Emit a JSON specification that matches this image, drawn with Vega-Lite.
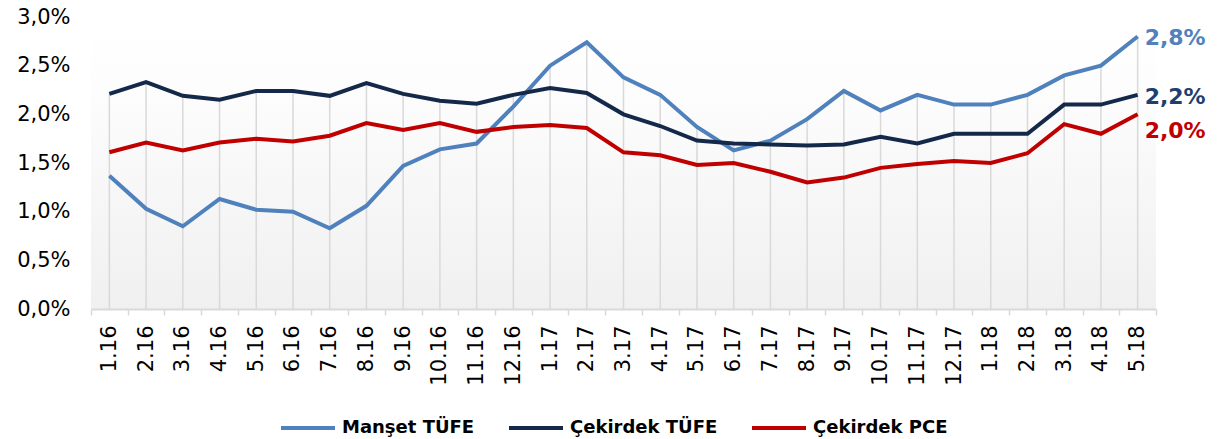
{
  "$schema": "https://vega.github.io/schema/vega-lite/v6.json",
  "width": 1065,
  "height": 292,
  "autosize": "none",
  "padding": {"left": 91, "top": 17, "right": 61, "bottom": 130},
  "background": "white",
  "config": {
    "font": "DejaVu Sans",
    "locale": {"number": {"decimal": ",", "thousands": ".", "grouping": [3], "currency": ["", " TL"]}},
    "view": {
      "stroke": null,
      "fill": {"gradient": "linear", "x1": 0, "y1": 0, "x2": 0, "y2": 1,
        "stops": [{"offset": 0, "color": "#ffffff"}, {"offset": 0.24, "color": "#fdfdfd"}, {"offset": 1, "color": "#f0f0f0"}]}
    }
  },
  "data": {"values": [
    {"m": "1.16", "s": "Manşet TÜFE", "v": 0.0137}, {"m": "2.16", "s": "Manşet TÜFE", "v": 0.0103}, {"m": "3.16", "s": "Manşet TÜFE", "v": 0.0085},
    {"m": "4.16", "s": "Manşet TÜFE", "v": 0.0113}, {"m": "5.16", "s": "Manşet TÜFE", "v": 0.0102}, {"m": "6.16", "s": "Manşet TÜFE", "v": 0.0100},
    {"m": "7.16", "s": "Manşet TÜFE", "v": 0.0083}, {"m": "8.16", "s": "Manşet TÜFE", "v": 0.0106}, {"m": "9.16", "s": "Manşet TÜFE", "v": 0.0147},
    {"m": "10.16", "s": "Manşet TÜFE", "v": 0.0164}, {"m": "11.16", "s": "Manşet TÜFE", "v": 0.0170}, {"m": "12.16", "s": "Manşet TÜFE", "v": 0.0208},
    {"m": "1.17", "s": "Manşet TÜFE", "v": 0.0250}, {"m": "2.17", "s": "Manşet TÜFE", "v": 0.0274}, {"m": "3.17", "s": "Manşet TÜFE", "v": 0.0238},
    {"m": "4.17", "s": "Manşet TÜFE", "v": 0.0220}, {"m": "5.17", "s": "Manşet TÜFE", "v": 0.0187}, {"m": "6.17", "s": "Manşet TÜFE", "v": 0.0163},
    {"m": "7.17", "s": "Manşet TÜFE", "v": 0.0173}, {"m": "8.17", "s": "Manşet TÜFE", "v": 0.0195}, {"m": "9.17", "s": "Manşet TÜFE", "v": 0.0224},
    {"m": "10.17", "s": "Manşet TÜFE", "v": 0.0204}, {"m": "11.17", "s": "Manşet TÜFE", "v": 0.0220}, {"m": "12.17", "s": "Manşet TÜFE", "v": 0.0210},
    {"m": "1.18", "s": "Manşet TÜFE", "v": 0.0210}, {"m": "2.18", "s": "Manşet TÜFE", "v": 0.0220}, {"m": "3.18", "s": "Manşet TÜFE", "v": 0.0240},
    {"m": "4.18", "s": "Manşet TÜFE", "v": 0.0250}, {"m": "5.18", "s": "Manşet TÜFE", "v": 0.0280},
    {"m": "1.16", "s": "Çekirdek TÜFE", "v": 0.0221}, {"m": "2.16", "s": "Çekirdek TÜFE", "v": 0.0233}, {"m": "3.16", "s": "Çekirdek TÜFE", "v": 0.0219},
    {"m": "4.16", "s": "Çekirdek TÜFE", "v": 0.0215}, {"m": "5.16", "s": "Çekirdek TÜFE", "v": 0.0224}, {"m": "6.16", "s": "Çekirdek TÜFE", "v": 0.0224},
    {"m": "7.16", "s": "Çekirdek TÜFE", "v": 0.0219}, {"m": "8.16", "s": "Çekirdek TÜFE", "v": 0.0232}, {"m": "9.16", "s": "Çekirdek TÜFE", "v": 0.0221},
    {"m": "10.16", "s": "Çekirdek TÜFE", "v": 0.0214}, {"m": "11.16", "s": "Çekirdek TÜFE", "v": 0.0211}, {"m": "12.16", "s": "Çekirdek TÜFE", "v": 0.0220},
    {"m": "1.17", "s": "Çekirdek TÜFE", "v": 0.0227}, {"m": "2.17", "s": "Çekirdek TÜFE", "v": 0.0222}, {"m": "3.17", "s": "Çekirdek TÜFE", "v": 0.0200},
    {"m": "4.17", "s": "Çekirdek TÜFE", "v": 0.0188}, {"m": "5.17", "s": "Çekirdek TÜFE", "v": 0.0173}, {"m": "6.17", "s": "Çekirdek TÜFE", "v": 0.0170},
    {"m": "7.17", "s": "Çekirdek TÜFE", "v": 0.0169}, {"m": "8.17", "s": "Çekirdek TÜFE", "v": 0.0168}, {"m": "9.17", "s": "Çekirdek TÜFE", "v": 0.0169},
    {"m": "10.17", "s": "Çekirdek TÜFE", "v": 0.0177}, {"m": "11.17", "s": "Çekirdek TÜFE", "v": 0.0170}, {"m": "12.17", "s": "Çekirdek TÜFE", "v": 0.0180},
    {"m": "1.18", "s": "Çekirdek TÜFE", "v": 0.0180}, {"m": "2.18", "s": "Çekirdek TÜFE", "v": 0.0180}, {"m": "3.18", "s": "Çekirdek TÜFE", "v": 0.0210},
    {"m": "4.18", "s": "Çekirdek TÜFE", "v": 0.0210}, {"m": "5.18", "s": "Çekirdek TÜFE", "v": 0.0220},
    {"m": "1.16", "s": "Çekirdek PCE", "v": 0.0161}, {"m": "2.16", "s": "Çekirdek PCE", "v": 0.0171}, {"m": "3.16", "s": "Çekirdek PCE", "v": 0.0163},
    {"m": "4.16", "s": "Çekirdek PCE", "v": 0.0171}, {"m": "5.16", "s": "Çekirdek PCE", "v": 0.0175}, {"m": "6.16", "s": "Çekirdek PCE", "v": 0.0172},
    {"m": "7.16", "s": "Çekirdek PCE", "v": 0.0178}, {"m": "8.16", "s": "Çekirdek PCE", "v": 0.0191}, {"m": "9.16", "s": "Çekirdek PCE", "v": 0.0184},
    {"m": "10.16", "s": "Çekirdek PCE", "v": 0.0191}, {"m": "11.16", "s": "Çekirdek PCE", "v": 0.0182}, {"m": "12.16", "s": "Çekirdek PCE", "v": 0.0187},
    {"m": "1.17", "s": "Çekirdek PCE", "v": 0.0189}, {"m": "2.17", "s": "Çekirdek PCE", "v": 0.0186}, {"m": "3.17", "s": "Çekirdek PCE", "v": 0.0161},
    {"m": "4.17", "s": "Çekirdek PCE", "v": 0.0158}, {"m": "5.17", "s": "Çekirdek PCE", "v": 0.0148}, {"m": "6.17", "s": "Çekirdek PCE", "v": 0.0150},
    {"m": "7.17", "s": "Çekirdek PCE", "v": 0.0141}, {"m": "8.17", "s": "Çekirdek PCE", "v": 0.0130}, {"m": "9.17", "s": "Çekirdek PCE", "v": 0.0135},
    {"m": "10.17", "s": "Çekirdek PCE", "v": 0.0145}, {"m": "11.17", "s": "Çekirdek PCE", "v": 0.0149}, {"m": "12.17", "s": "Çekirdek PCE", "v": 0.0152},
    {"m": "1.18", "s": "Çekirdek PCE", "v": 0.0150}, {"m": "2.18", "s": "Çekirdek PCE", "v": 0.0160}, {"m": "3.18", "s": "Çekirdek PCE", "v": 0.0190},
    {"m": "4.18", "s": "Çekirdek PCE", "v": 0.0180}, {"m": "5.18", "s": "Çekirdek PCE", "v": 0.0200}
  ]},
  "encoding": {
    "x": {
      "field": "m", "type": "ordinal", "bandPosition": 0.5,
      "scale": {"type": "band", "paddingInner": 0, "paddingOuter": 0,
        "domain": ["1.16","2.16","3.16","4.16","5.16","6.16","7.16","8.16","9.16","10.16","11.16","12.16","1.17","2.17","3.17","4.17","5.17","6.17","7.17","8.17","9.17","10.17","11.17","12.17","1.18","2.18","3.18","4.18","5.18"]},
      "axis": {"title": null, "labelAngle": -90, "labelAlign": "right", "labelBaseline": "middle", "labelFontSize": 21, "labelColor": "#000000",
        "labelPadding": 10, "labelOverlap": false, "tickBand": "extent", "ticks": true, "tickColor": "#d9d9d9", "tickSize": 6, "tickWidth": 1.5,
        "domainColor": "#d9d9d9", "domainWidth": 2, "grid": false}
    },
    "y": {
      "field": "v", "type": "quantitative",
      "scale": {"domain": [0, 0.03], "nice": false},
      "axis": {"title": null, "values": [0, 0.005, 0.01, 0.015, 0.02, 0.025, 0.03], "format": ".1%", "labelFontSize": 21, "labelColor": "#000000",
        "domain": false, "ticks": false, "grid": false, "labelPadding": 21}
    }
  },
  "layer": [
    {
      "mark": {"type": "rule", "color": "#d9d9d9", "strokeWidth": 1.5},
      "encoding": {
        "y": {"aggregate": "max", "field": "v", "type": "quantitative"},
        "y2": {"datum": 0}
      }
    },
    {
      "mark": {"type": "line", "strokeWidth": 4},
      "encoding": {
        "color": {
          "field": "s", "type": "nominal",
          "scale": {"domain": ["Manşet TÜFE", "Çekirdek TÜFE", "Çekirdek PCE"], "range": ["#4f81bd", "#14294a", "#c00000"]},
          "legend": {"title": null, "orient": "none", "legendX": 188, "legendY": 382, "direction": "horizontal",
            "symbolType": "stroke", "symbolSize": 2916, "symbolStrokeWidth": 4, "labelFontSize": 18, "labelFontWeight": "bold",
            "labelColor": "#000000", "columnPadding": 26, "labelOffset": 5, "labelLimit": 300}
        }
      }
    },
    {
      "transform": [{"filter": {"field": "m", "equal": "5.18"}}, {"filter": {"field": "s", "equal": "Manşet TÜFE"}}],
      "mark": {"type": "text", "align": "left", "baseline": "middle", "dx": 7, "dy": 2, "fontSize": 22, "fontWeight": "bold", "color": "#4f81bd"},
      "encoding": {"text": {"field": "v", "type": "quantitative", "format": ".1%"}}
    },
    {
      "transform": [{"filter": {"field": "m", "equal": "5.18"}}, {"filter": {"field": "s", "equal": "Çekirdek TÜFE"}}],
      "mark": {"type": "text", "align": "left", "baseline": "middle", "dx": 7, "dy": 2, "fontSize": 22, "fontWeight": "bold", "color": "#1f3f6e"},
      "encoding": {"text": {"field": "v", "type": "quantitative", "format": ".1%"}}
    },
    {
      "transform": [{"filter": {"field": "m", "equal": "5.18"}}, {"filter": {"field": "s", "equal": "Çekirdek PCE"}}],
      "mark": {"type": "text", "align": "left", "baseline": "middle", "dx": 7, "dy": 17, "fontSize": 22, "fontWeight": "bold", "color": "#c00000"},
      "encoding": {"text": {"field": "v", "type": "quantitative", "format": ".1%"}}
    }
  ]
}
